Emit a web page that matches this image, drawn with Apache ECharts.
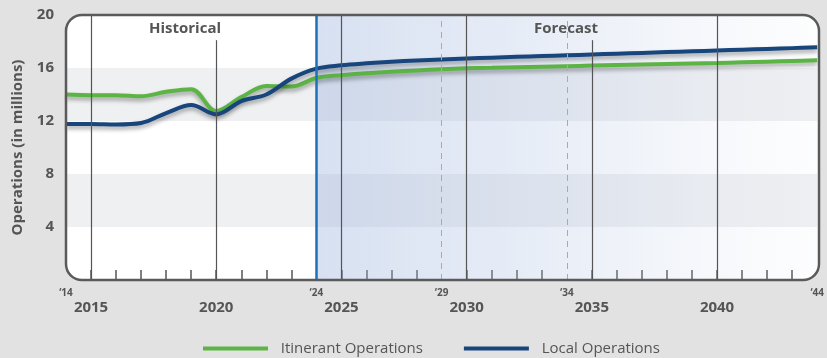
<!DOCTYPE html>
<html>
<head>
<meta charset="utf-8">
<script src="https://cdn.jsdelivr.net/npm/echarts@6/dist/echarts.min.js"></script>
<style>
  html, body { margin: 0; padding: 0; background: #e2e2e2; }
  #chart { width: 827px; height: 358px; }
</style>
</head>
<body>
<div id="chart"></div>
<script>
// Annual operations, millions (historical through 2024, forecast after)
const years = [2014, 2015, 2016, 2017, 2018, 2019, 2020, 2021, 2022, 2023, 2024,
  2025, 2026, 2027, 2028, 2029, 2030, 2031, 2032, 2033, 2034,
  2035, 2036, 2037, 2038, 2039, 2040, 2041, 2042, 2043, 2044];
const itinerant = [14.0, 13.95, 13.95, 13.87, 14.2, 14.4, 12.75, 13.8, 14.65, 14.6, 15.25,
  15.45, 15.6, 15.72, 15.82, 15.91, 15.98, 16.02, 16.06, 16.1, 16.14,
  16.18, 16.22, 16.26, 16.3, 16.34, 16.38, 16.43, 16.48, 16.53, 16.58];
const local = [11.78, 11.78, 11.74, 11.85, 12.6, 13.2, 12.5, 13.5, 14.0, 15.2, 15.95,
  16.2, 16.35, 16.47, 16.57, 16.65, 16.72, 16.78, 16.84, 16.9, 16.96,
  17.02, 17.08, 17.14, 17.2, 17.26, 17.32, 17.38, 17.44, 17.5, 17.56];

const seriesNames = ['Itinerant Operations', 'Local Operations'];
const yAxisName = 'Operations (in millions)';
const shortYearLabels = { 2014: '‘14', 2024: '‘24', 2029: '‘29', 2034: '‘34', 2044: '‘44' };
const yearLabels = [2015, 2020, 2025, 2030, 2035, 2040];
const solidGuides = [2015, 2020, 2025, 2030, 2035, 2040];
const guidesBelowTitles = [2020, 2035];
const dashedGuides = [2029, 2034];
const forecastStart = 2024;
const sectionTitles = ['Historical', 'Forecast'];

// yearly ticks, except where a frame edge or another guide already marks the year
const tickYears = years.filter(y => !(y in shortYearLabels));

const G = { left: 66, top: 15, width: 753, height: 265 };
const FONT = '"Open Sans", "Noto Sans", sans-serif';
const TEXT = '#555555';
const FRAME = '#5a5a5a';

const toPairs = (xs, ys) => xs.map((x, i) => [x, ys[i]]);
const lineShadow = { shadowColor: 'rgba(0,0,0,0.35)', shadowBlur: 4, shadowOffsetY: 3 };

const chart = echarts.init(document.getElementById('chart'), null, { renderer: 'canvas' });

const option = {
  backgroundColor: '#e2e2e2',
  animation: false,
  textStyle: { fontFamily: FONT },
  grid: { left: G.left, top: G.top, width: G.width, height: G.height },
  legend: {
    data: seriesNames,
    left: 203,
    top: 341,
    icon: 'rect',
    itemWidth: 65,
    itemHeight: 4,
    itemGap: 41,
    padding: 0,
    formatter: n => '  ' + n,
    textStyle: { fontFamily: FONT, fontSize: 15, color: TEXT },
    itemStyle: { shadowBlur: 0, shadowOffsetY: 0 },
    lineStyle: { shadowBlur: 0, shadowOffsetY: 0 }
  },
  xAxis: [
    {
      type: 'value', min: 2014, max: 2044, interval: 1, position: 'bottom',
      // the rounded frame draws the baseline; the axis line itself stays invisible
      axisLine: { show: true, lineStyle: { color: 'rgba(0,0,0,0)', width: 1 } },
      axisTick: {
        show: true, inside: true, length: 10, customValues: tickYears,
        lineStyle: { color: '#555', width: 1.5 }
      },
      splitLine: { show: false },
      axisLabel: {
        showMinLabel: true, showMaxLabel: true, margin: 8,
        color: TEXT, fontSize: 10, fontWeight: 'bold', fontFamily: FONT,
        formatter: v => shortYearLabels[v] || ''
      }
    },
    {
      type: 'value', min: 2014, max: 2044, interval: 1, position: 'bottom',
      axisLine: { show: false }, axisTick: { show: false }, splitLine: { show: false },
      axisLabel: {
        margin: 20, color: TEXT, fontSize: 15, fontWeight: 'bold', fontFamily: FONT,
        formatter: v => (yearLabels.includes(v) ? String(v) : '')
      }
    }
  ],
  yAxis: {
    type: 'value', min: 0, max: 20, interval: 4,
    axisLine: { show: false }, axisTick: { show: false },
    splitLine: { show: false },
    splitArea: { show: true, areaStyle: { color: ['rgba(0,0,0,0)', '#eff0f2'] } },
    axisLabel: {
      margin: 12, color: TEXT, fontSize: 15, fontWeight: 'bold', fontFamily: FONT,
      formatter: v => (v === 0 ? '' : String(v))
    },
    name: yAxisName,
    nameLocation: 'middle',
    nameGap: 41,
    nameTextStyle: { color: TEXT, fontSize: 15, fontWeight: 'bold', fontFamily: FONT }
  },
  series: [
    {
      // guide lines and forecast shading
      type: 'line', name: 'guides', data: [], silent: true, z: 1,
      markArea: {
        silent: true,
        itemStyle: {
          color: new echarts.graphic.LinearGradient(0, 0, 1, 0, [
            { offset: 0, color: 'rgba(150,175,220,0.38)' },
            { offset: 0.5, color: 'rgba(170,190,225,0.25)' },
            { offset: 1, color: 'rgba(200,210,230,0.04)' }
          ])
        },
        data: [[{ coord: [forecastStart, 0] }, { coord: [2044, 20] }]]
      },
      markLine: {
        silent: true, symbol: ['none', 'none'], label: { show: false },
        emphasis: { disabled: true },
        data: [
          ...solidGuides.map(x => [
            { coord: [x, 0], lineStyle: { color: '#555', width: 1.2, type: 'solid' } },
            { coord: [x, guidesBelowTitles.includes(x) ? 18.1 : 20] }
          ]),
          ...dashedGuides.map(x => [
            { coord: [x, 0], lineStyle: { color: '#aaaaaa', width: 1, type: [6, 5] } },
            { coord: [x, 20] }
          ]),
          [
            { coord: [forecastStart, 0], lineStyle: { color: '#1b72bb', width: 2.5, type: 'solid' } },
            { coord: [forecastStart, 20] }
          ]
        ]
      }
    },
    {
      type: 'line', name: seriesNames[0], data: toPairs(years, itinerant),
      smooth: 0.35, symbol: 'none', z: 3,
      itemStyle: { color: '#5cb445' },
      lineStyle: Object.assign({ color: '#5cb445', width: 4 }, lineShadow)
    },
    {
      type: 'line', name: seriesNames[1], data: toPairs(years, local),
      smooth: 0.35, symbol: 'none', z: 4,
      itemStyle: { color: '#17457c' },
      lineStyle: Object.assign({ color: '#17457c', width: 4 }, lineShadow)
    }
  ],
  graphic: [
    {
      type: 'rect', z: -10, silent: true,
      shape: { x: G.left, y: G.top, width: G.width, height: G.height, r: 16 },
      style: { fill: '#ffffff' }
    },
    {
      type: 'rect', z: 100, silent: true,
      shape: { x: G.left, y: G.top, width: G.width, height: G.height, r: 16 },
      style: { fill: 'none', stroke: FRAME, lineWidth: 2.5 }
    },
    {
      type: 'text', z: 100, silent: true, x: 185, y: 29,
      style: { text: sectionTitles[0], fill: TEXT, font: 'bold 15px ' + FONT, align: 'center', verticalAlign: 'middle' }
    },
    {
      type: 'text', z: 100, silent: true, x: 566, y: 29,
      style: { text: sectionTitles[1], fill: TEXT, font: 'bold 15px ' + FONT, align: 'center', verticalAlign: 'middle' }
    }
  ]
};

chart.setOption(option);
</script>
</body>
</html>
